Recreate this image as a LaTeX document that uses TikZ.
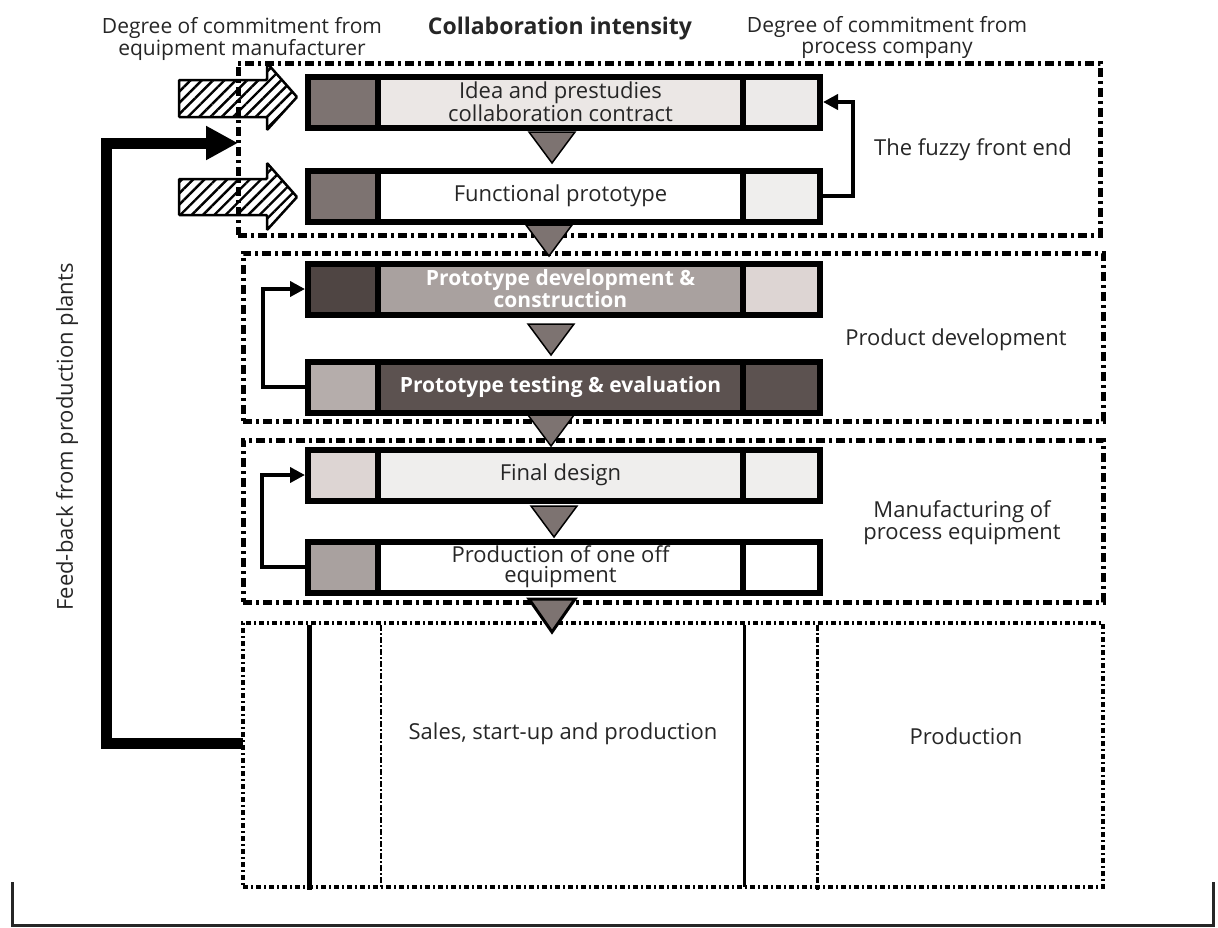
\documentclass[tikz,border=0pt]{standalone}
\usepackage{fontspec}
\setmainfont{Open Sans}
\usetikzlibrary{positioning,arrows.meta,patterns.meta}

\definecolor{gA}{RGB}{125,115,113}
\definecolor{gB}{RGB}{235,231,229}
\definecolor{gC}{RGB}{236,234,233}
\definecolor{gD}{RGB}{239,238,237}
\definecolor{gE}{RGB}{79,69,67}
\definecolor{gF}{RGB}{169,161,159}
\definecolor{gG}{RGB}{221,213,211}
\definecolor{gH}{RGB}{181,173,171}
\definecolor{gI}{RGB}{92,82,80}

\tikzset{
  cell/.style={draw, line width=6, inner sep=0, outer sep=0, minimum height=51,
    font=\fontsize{22}{20}\selectfont, text=black!85, align=center},
  zone/.style={draw, line width=5, dash pattern=on 9pt off 4pt on 3pt off 4pt,
    inner sep=0, outer sep=0},
  tri/.style={draw, fill=gA, line width=1.5, line join=miter},
  hatch/.style={draw, line width=2.5, rounded corners=1,
    pattern={Lines[angle=45,distance=8pt,line width=2.4pt]}},
  fb/.style={line width=11, -{Triangle[length=32pt,width=32pt]}},
  loopback/.style={line width=4, -{Triangle[length=15pt,width=15pt]}, shorten >=3},
  lbl/.style={font=\fontsize{22}{20}\selectfont, text=black!85, align=center, inner sep=0},
  head/.style={font=\fontsize{21}{21}\selectfont, text=black!85, align=center, inner sep=0},
  lane/.style={line width=5},
  lanedot/.style={line width=2.5, dash pattern=on 6pt off 2pt on 2pt off 2pt},
}

\begin{document}
\begin{tikzpicture}[x=1pt,y=-1pt]
\useasboundingbox (0,0) rectangle (1218,927);
% headings
\node[head] (hl) at (242,39) {Degree of commitment from\\equipment manufacturer};
\node[head, font=\bfseries\fontsize{23}{24}\selectfont] (ht) at (560,29) {Collaboration intensity};
\node[head] (hr) at (887,37) {Degree of commitment from\\process company};
% zones
\node[zone, minimum width=862, minimum height=172] (z1) at (669,149) {};
\node[zone, minimum width=860, minimum height=168] (z2) at (673,337) {};
\node[zone, minimum width=860, minimum height=162] (z3) at (673,521) {};
\node[zone, line width=3.5, dash pattern=on 5pt off 3pt on 2pt off 3pt,
  minimum width=860, minimum height=264] (z4) at (673,755) {};
\node[lbl] (z1t) at (973,150) {The fuzzy front end};
\node[lbl] (z2t) at (956,340) {Product development};
\node[lbl] (z3t) at (962,523) {Manufacturing of\\process equipment};
% lanes of the last zone
\draw[lane] (309,625) -- (309,890);
\draw[lanedot] (381,625) -- (381,887);
\draw[lane, line width=3] (744,625) -- (744,887);
\draw[lanedot, line width=3] (817,625) -- (817,890);
\node[lbl] (z4t) at (563,734) {Sales, start-up and production};
\node[lbl] (z4p) at (966,736) {Production};
% triangles between the steps
\coordinate (t1) at (552,163);
\coordinate (t2) at (549,256);
\coordinate (t3) at (551,355);
\coordinate (t4) at (551,446);
\coordinate (t5) at (554,537);
\coordinate (t6) at (552,632);
\draw[tri] (t1) -- ++(-23,-31) -- ++(46,0) -- cycle;
\draw[tri] (t2) -- ++(-23,-31) -- ++(46,0) -- cycle;
\draw[tri] (t3) -- ++(-23,-31) -- ++(46,0) -- cycle;
\draw[tri] (t4) -- ++(-23,-31) -- ++(46,0) -- cycle;
\draw[tri] (t5) -- ++(-23,-31) -- ++(46,0) -- cycle;
\draw[tri, line width=3] (t6) -- ++(-23,-33) -- ++(46,0) -- cycle;
% step 1 idea
\node[cell, fill=gA, minimum width=70] (p1l) at (343,102) {};
\node[cell, fill=gB, minimum width=365, right=0pt of p1l] (p1m) {Idea and prestudies\\collaboration contract};
\node[cell, fill=gC, minimum width=77, right=0pt of p1m] (p1r) {};
% step 2 functional prototype
\node[cell, fill=gA, minimum width=70] (p2l) at (343,196) {};
\node[cell, fill=white, minimum width=365, right=0pt of p2l] (p2m) {Functional prototype};
\node[cell, fill=gD, minimum width=77, right=0pt of p2m] (p2r) {};
% step 3 development
\node[cell, fill=gE, minimum width=70] (p3l) at (343,289) {};
\node[cell, fill=gF, minimum width=365, right=0pt of p3l, text=white,
  font=\bfseries\fontsize{21}{20}\selectfont] (p3m) {Prototype development \&\\construction};
\node[cell, fill=gG, minimum width=77, right=0pt of p3m] (p3r) {};
% step 4 testing
\node[cell, fill=gH, minimum width=70] (p4l) at (343,387) {};
\node[cell, fill=gI, minimum width=365, right=0pt of p4l, text=white,
  font=\bfseries\fontsize{21}{20}\selectfont] (p4m) {Prototype testing \& evaluation};
\node[cell, fill=gI, minimum width=77, right=0pt of p4m] (p4r) {};
% step 5 final design
\node[cell, fill=gG, minimum width=70] (p5l) at (343,475) {};
\node[cell, fill=gD, minimum width=365, right=0pt of p5l] (p5m) {Final design};
\node[cell, fill=gD, minimum width=77, right=0pt of p5m] (p5r) {};
% step 6 one off equipment
\node[cell, fill=gF, minimum width=70] (p6l) at (343,567) {};
\node[cell, fill=white, minimum width=365, right=0pt of p6l] (p6m) {Production of one off\\equipment};
\node[cell, fill=white, minimum width=77, right=0pt of p6m] (p6r) {};
% loops back
\draw[loopback] (p2r.east) -- ++(33,0) |- (p1r.east);
\draw[loopback] (p4l.west) -- ++(-45,0) |- (p3l.west);
\draw[loopback] (p6l.west) -- ++(-46,0) |- (p5l.west);
% hatched arrows of the manufacturer
\coordinate (h1) at (297,97);
\coordinate (h2) at (297,197);
\draw[hatch] (179,80) -- (267,80) -- (267,63) -- (h1) -- (267,130) -- (267,117) -- (179,117) -- cycle;
\draw[hatch] (179,179) -- (267,179) -- (267,163) -- (h2) -- (267,230) -- (267,215) -- (179,215) -- cycle;
% feed-back from production
\coordinate (fbc) at (106,143);
\draw[fb] ([yshift=12]z4.west) -| (fbc) -- ([yshift=6]z1.west);
\node[lbl, rotate=90] (fbt) at (67,437) {Feed-back from production plants};
% bracket at the bottom
\draw[line width=3, draw=black!85] (12,882) -- (12,925) -- (1213,925) -- (1213,882);
\end{tikzpicture}
\end{document}
